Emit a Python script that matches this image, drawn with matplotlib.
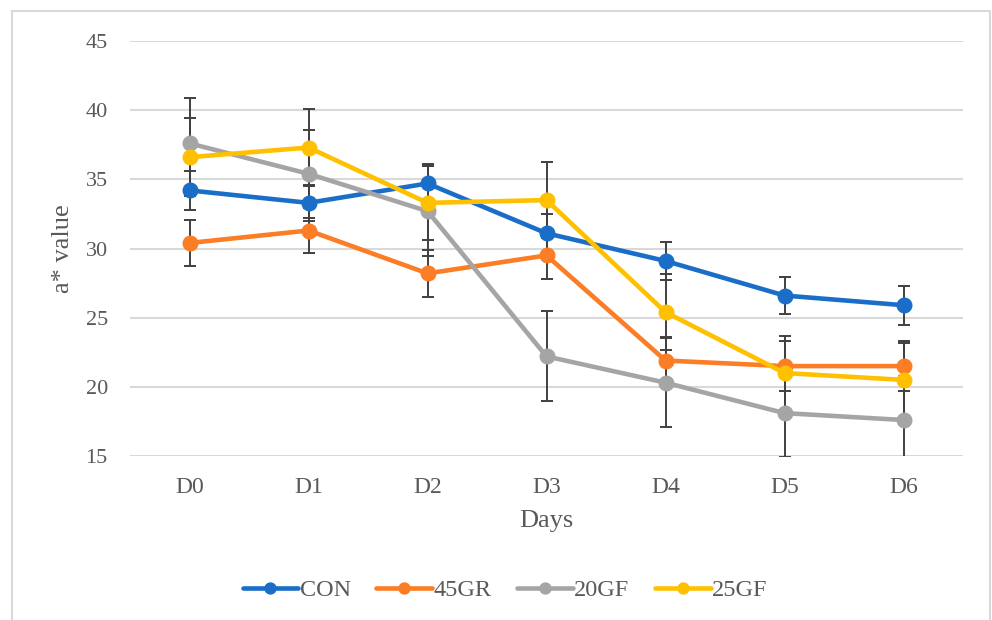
# -*- coding: utf-8 -*-

import numpy as np
import matplotlib
matplotlib.use('Agg')
import matplotlib.pyplot as plt
import matplotlib.patches as patches

days = ['D0', 'D1', 'D2', 'D3', 'D4', 'D5', 'D6']
series_names = ['CON', '45GR', '20GF', '25GF']

con = [34.2, 33.3, 34.7, 31.1, 29.1, 26.6, 25.9]
gr45 = [30.4, 31.3, 28.2, 29.5, 21.9, 21.5, 21.5]
gf20 = [37.6, 35.4, 32.7, 22.2, 20.3, 18.1, 17.6]
gf25 = [36.6, 37.3, 33.3, 33.5, 25.4, 21.0, 20.5]

con_err = [1.4, 1.3, 1.4, 1.4, 1.4, 1.35, 1.4]
gr45_err = [1.65, 1.6, 1.7, 1.7, 1.7, 1.8, 1.8]
gf20_err = [3.3, 3.2, 3.25, 3.25, 3.2, 3.2, 3.2]
gf25_err = [2.8, 2.75, 2.7, 2.75, 2.75, 2.7, 2.7]

colors = ['#1a6ec8', '#fb7d25', '#a5a5a5', '#ffc000']
text_color = '#595959'

plt.rcParams['font.family'] = ['Liberation Serif', 'DejaVu Serif']

fig = plt.figure(figsize=(9.92, 6.2), dpi=100)
ax = fig.add_axes([130 / 992., 1 - 456 / 620., 833 / 992., 415 / 620.])

x = np.arange(len(days))
values = [con, gr45, gf20, gf25]
errors = [con_err, gr45_err, gf20_err, gf25_err]

# Error bars first, lines and markers drawn on top.
for v, e in zip(values, errors):
    ax.errorbar(x, v, yerr=e, fmt='none', ecolor='#404040', elinewidth=1.4,
                capsize=4.5, capthick=1.4, zorder=2)

for v, name, c in zip(values, series_names, colors):
    ax.plot(x, v, color=c, lw=3.3, marker='o', markersize=10.5, label=name,
            solid_capstyle='round', zorder=3)

ax.set_xlim(-0.5, len(days) - 0.5)
ax.set_ylim(15, 45)
ax.set_yticks(np.arange(15, 46, 5))
ax.set_xticks(x)
ax.set_xticklabels(days)
ax.grid(axis='y', color='#d9d9d9', lw=1.5, zorder=0)
ax.set_axisbelow(True)
for s in ax.spines.values():
    s.set_visible(False)
ax.tick_params(length=0, colors=text_color)
ax.tick_params(axis='y', pad=16, labelsize=16)
ax.tick_params(axis='x', pad=15, labelsize=17)

ax.set_xlabel('Days', fontsize=19, color=text_color, labelpad=9)
ax.set_ylabel('a* value', fontsize=19, color=text_color, labelpad=8)

leg = fig.legend(loc='center', bbox_to_anchor=(505 / 992., 1 - 590 / 620.), ncol=4,
                 frameon=False, fontsize=17.5, handlelength=2.3, handletextpad=0.05,
                 columnspacing=1.05, markerscale=0.75)
for t in leg.get_texts():
    t.set_color(text_color)

# Light frame around the chart area (bottom edge is cut off).
frame = patches.Rectangle((12 / 992., -0.05), 978 / 992., 1.05 - 11 / 620.,
                          transform=fig.transFigure, fill=False, edgecolor='#d9d9d9',
                          lw=1.5)
fig.add_artist(frame)

fig.savefig('out.png', dpi=100)
